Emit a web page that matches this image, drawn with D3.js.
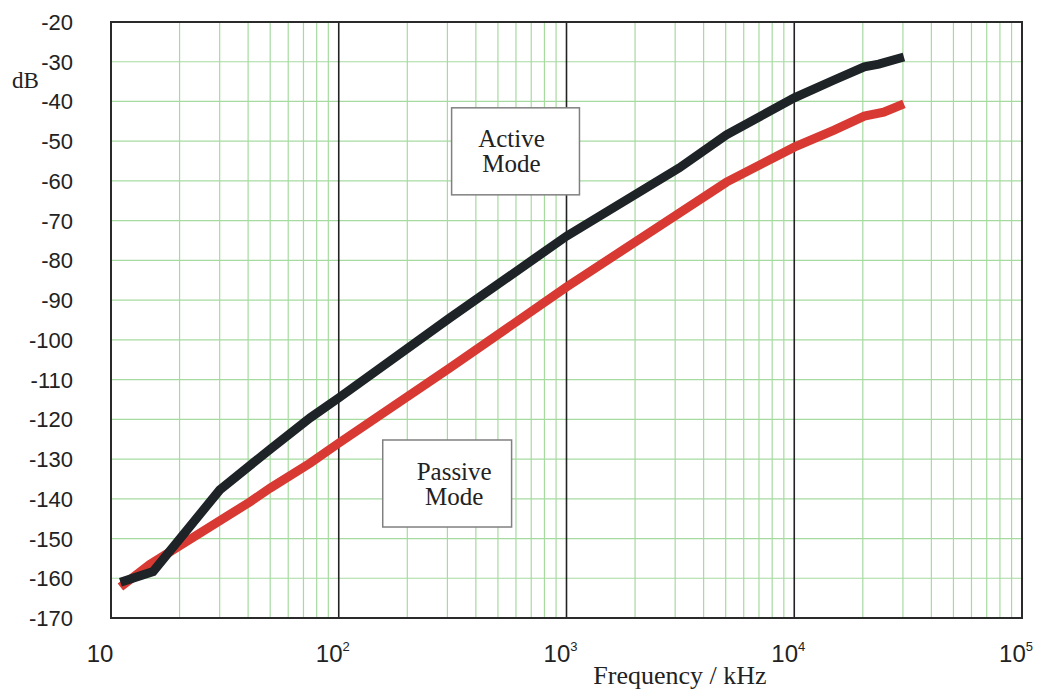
<!DOCTYPE html>
<html>
<head>
<meta charset="utf-8">
<script src="https://cdn.jsdelivr.net/npm/d3@7"></script>
<style>
  body { margin: 0; background: #fff; }
</style>
</head>
<body>
<div id="chart"></div>
<script>
// frequency in kHz, level in dB
var activeFreq = [11, 15.3, 30, 50, 75, 100, 307, 1000, 3130, 5040, 10000, 14960, 20300, 23500, 30300];
var activeDb = [-161, -158.3, -137.8, -127.5, -119.6, -114.6, -94.5, -73.9, -56.7, -48.4, -39.1, -34.6, -31.3, -30.6, -28.8];

var passiveFreq = [11, 14.8, 40.7, 50, 75, 100, 307, 1000, 5040, 10000, 14960, 20300, 24700, 30300];
var passiveDb = [-162.2, -156.5, -140.8, -137.3, -131.0, -126.0, -107.1, -86.7, -60.3, -51.5, -47.2, -43.7, -42.7, -40.6];

var yTicks = [-20, -30, -40, -50, -60, -70, -80, -90, -100, -110, -120, -130, -140, -150, -160, -170];
var xDecades = [10, 100, 1000, 10000, 100000];
var xDecadeExp = ["", "2", "3", "4", "5"];

// annotation boxes (freq range, dB range)
var notes = [
    { lines: ["Active", "Mode"], f: [313, 1140], db: [-41.6, -63.5], dx: -4 },
    { lines: ["Passive", "Mode"], f: [156, 574], db: [-125.2, -147.1], dx: 7 }
];

function init(){

    var w = 1052;
    var h = 691;
    var left = 111, right = 1022, top = 22, bottom = 618;

    var svg = d3.select("#chart")
                .append("svg")
                .attr("width", w)
                .attr("height", h);

    var x = d3.scaleLog().domain([10, 100000]).range([left, right]);
    var y = d3.scaleLinear().domain([-170, -20]).range([bottom, top]);

    // minor grid (2..9 of each decade)
    var minor = [];
    for (var d = 10; d < 100000; d *= 10) {
        for (var k = 2; k <= 9; k++) minor.push(d * k);
    }
    svg.selectAll("line.minor")
        .data(minor)
        .enter()
        .append("line")
        .attr("class", "minor")
        .attr("x1", function(d) { return x(d); })
        .attr("x2", function(d) { return x(d); })
        .attr("y1", top)
        .attr("y2", bottom)
        .attr("stroke", "#a6dba0")
        .attr("stroke-width", 1.2);

    svg.selectAll("line.hgrid")
        .data(yTicks.slice(1, -1))
        .enter()
        .append("line")
        .attr("class", "hgrid")
        .attr("x1", left)
        .attr("x2", right)
        .attr("y1", function(d) { return y(d); })
        .attr("y2", function(d) { return y(d); })
        .attr("stroke", "#a6dba0")
        .attr("stroke-width", 1.2);

    // decade lines
    svg.selectAll("line.decade")
        .data(xDecades.slice(1, -1))
        .enter()
        .append("line")
        .attr("class", "decade")
        .attr("x1", function(d) { return x(d); })
        .attr("x2", function(d) { return x(d); })
        .attr("y1", top)
        .attr("y2", bottom)
        .attr("stroke", "#222")
        .attr("stroke-width", 1.6);

    // frame
    svg.append("rect")
        .attr("x", left)
        .attr("y", top)
        .attr("width", right - left)
        .attr("height", bottom - top)
        .attr("fill", "none")
        .attr("stroke", "#2a2a2a")
        .attr("stroke-width", 2);

    // curves
    var line = d3.line()
        .x(function(d) { return x(d[0]); })
        .y(function(d) { return y(d[1]); });

    svg.append("path")
        .datum(d3.zip(passiveFreq, passiveDb))
        .attr("d", line)
        .attr("fill", "none")
        .attr("stroke", "#d83a33")
        .attr("stroke-width", 9);

    svg.append("path")
        .datum(d3.zip(activeFreq, activeDb))
        .attr("d", line)
        .attr("fill", "none")
        .attr("stroke", "#1d2326")
        .attr("stroke-width", 9);

    // annotation boxes
    notes.forEach(function(b) {
        var xa = x(b.f[0]), xb = x(b.f[1]);
        var ya = y(b.db[0]), yb = y(b.db[1]);
        svg.append("rect")
            .attr("x", xa)
            .attr("y", ya)
            .attr("width", xb - xa)
            .attr("height", yb - ya)
            .attr("fill", "#fff")
            .attr("stroke", "#808080")
            .attr("stroke-width", 1.5);
        var cx = (xa + xb) / 2 + b.dx;
        var cy = (ya + yb) / 2;
        svg.append("text")
            .attr("x", cx)
            .attr("y", cy - 4)
            .attr("text-anchor", "middle")
            .attr("font-family", "Liberation Serif, serif")
            .attr("font-size", "25px")
            .attr("fill", "#222")
            .text(b.lines[0]);
        svg.append("text")
            .attr("x", cx)
            .attr("y", cy + 21)
            .attr("text-anchor", "middle")
            .attr("font-family", "Liberation Serif, serif")
            .attr("font-size", "25px")
            .attr("fill", "#222")
            .text(b.lines[1]);
    });

    // y tick labels
    svg.selectAll("text.ytick")
        .data(yTicks)
        .enter()
        .append("text")
        .attr("class", "ytick")
        .text(function(d) { return d; })
        .attr("x", 73)
        .attr("y", function(d) { return y(d) + 8; })
        .attr("text-anchor", "end")
        .attr("font-family", "Liberation Sans, Arial, sans-serif")
        .attr("font-size", "22px")
        .attr("fill", "#222");

    // x tick labels
    var xt = svg.selectAll("text.xtick")
        .data(xDecades)
        .enter()
        .append("text")
        .attr("class", "xtick")
        .attr("x", function(d, i) { return x(d) - (i === 0 ? 11 : 6); })
        .attr("y", 662)
        .attr("text-anchor", "middle")
        .attr("font-family", "Liberation Sans, Arial, sans-serif")
        .attr("font-size", "24px")
        .attr("fill", "#222");
    xt.append("tspan").text("10");
    xt.append("tspan")
        .text(function(d, i) { return xDecadeExp[i]; })
        .attr("font-size", "13px")
        .attr("dy", -11);

    // axis titles
    svg.append("text")
        .text("dB")
        .attr("x", 12)
        .attr("y", 88)
        .attr("font-family", "Liberation Serif, serif")
        .attr("font-size", "23px")
        .attr("fill", "#222");

    svg.append("text")
        .text("Frequency / kHz")
        .attr("x", 680)
        .attr("y", 684)
        .attr("text-anchor", "middle")
        .attr("font-family", "Liberation Serif, serif")
        .attr("font-size", "26px")
        .attr("fill", "#222");
}

window.onload = init;
</script>
</body>
</html>
